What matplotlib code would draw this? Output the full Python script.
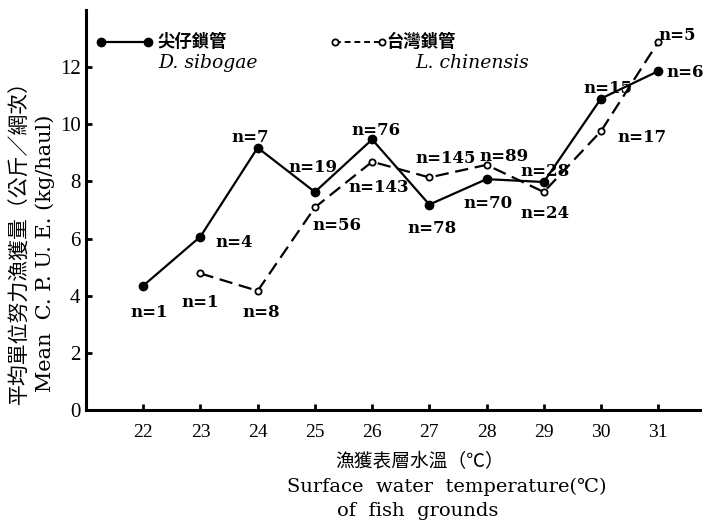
import matplotlib
matplotlib.use('Agg')
import matplotlib.pyplot as plt
from matplotlib.lines import Line2D

# surface water temperature (C)
temp_sib = [22, 23, 24, 25, 26, 27, 28, 29, 30, 31]
cpue_sib = [4.35, 6.07, 9.18, 7.63, 9.47, 7.19, 8.08, 7.98, 10.9, 11.86]
n_sib = ['n=1', 'n=4', 'n=7', 'n=19', 'n=76', 'n=78', 'n=70', 'n=28', 'n=15', 'n=6']

temp_chi = [23, 24, 25, 26, 27, 28, 29, 30, 31]
cpue_chi = [4.78, 4.17, 7.09, 8.69, 8.14, 8.58, 7.63, 9.76, 12.88]
n_chi = ['n=1', 'n=8', 'n=56', 'n=143', 'n=145', 'n=89', 'n=24', 'n=17', 'n=5']

xticks = [22, 23, 24, 25, 26, 27, 28, 29, 30, 31]
yticks = [0, 2, 4, 6, 8, 10, 12]

# label offsets in pixels (dx right, dy down)
off_sib = [(6, 27), (34, 6), (-7, -10), (-2, -24), (4, -9), (3, 24), (1, 24), (1, -10), (7, -10), (27, 1)]
off_chi = [(0, 29), (4, 22), (22, 18), (7, 26), (16, -19), (17, -8), (1, 21), (41, 6), (19, -7)]

W, H = 706, 526
fig = plt.figure(figsize=(W / 100, H / 100), dpi=100)
ax = fig.add_axes([86 / W, 116 / H, 614 / W, 400 / H])

ax.plot(temp_sib, cpue_sib, color='black', lw=1.6, marker='o', ms=6, mfc='black', mec='black')
ax.plot(temp_chi, cpue_chi, color='black', lw=1.6, ls=(0, (6, 3)), marker='o', ms=4.5,
        mfc='white', mec='black', mew=1.3)

lab_font = dict(family='DejaVu Serif', fontsize=12, weight='bold', ha='center', va='center')
for x, y, t, (dx, dy) in zip(temp_sib, cpue_sib, n_sib, off_sib):
    ax.annotate(t, (x, y), xytext=(dx, -dy), textcoords='offset pixels', **lab_font)
for x, y, t, (dx, dy) in zip(temp_chi, cpue_chi, n_chi, off_chi):
    ax.annotate(t, (x, y), xytext=(dx, -dy), textcoords='offset pixels', **lab_font)

ax.set_xlim(21, 31.73)
ax.set_ylim(0, 14)
ax.set_xticks(xticks)
ax.set_yticks(yticks)
for s in ['top', 'right']:
    ax.spines[s].set_visible(False)
for s in ['left', 'bottom']:
    ax.spines[s].set_linewidth(2.2)
ax.tick_params(direction='in', length=4, width=2)
ax.tick_params(axis='x', pad=10)
ax.tick_params(axis='y', pad=4)
for lab in ax.get_xticklabels():
    lab.set_fontfamily('Liberation Serif')
    lab.set_fontsize(14)
for lab in ax.get_yticklabels():
    lab.set_fontfamily('Liberation Serif')
    lab.set_fontsize(15)

def px(x, y):
    return x / W, 1 - y / H

# legend drawn by hand
xa, ya = px(101, 42)
xb, _ = px(148, 42)
fig.add_artist(Line2D([xa, xb], [ya, ya], transform=fig.transFigure, color='black', lw=1.6,
                      marker='o', ms=6, mfc='black'))
xa, _ = px(335, 42)
xb, _ = px(382, 42)
fig.add_artist(Line2D([xa, xb], [ya, ya], transform=fig.transFigure, color='black', lw=1.4,
                      ls=(0, (3, 2)), marker='o', ms=4.5, mfc='white', mew=1.3))
cjk = ['Noto Sans CJK TC', 'DejaVu Sans']
fig.text(*px(157, 42), '尖仔鎖管', family=cjk, fontsize=12.5, weight='bold', va='center')
fig.text(*px(158, 63), 'D. sibogae', family='DejaVu Serif', style='italic', fontsize=13.5, va='center')
fig.text(*px(386, 42), '台灣鎖管', family=cjk, fontsize=12.5, weight='bold', va='center')
fig.text(*px(415, 63), 'L. chinensis', family='DejaVu Serif', style='italic', fontsize=13.5, va='center')

# axis titles
fig.text(*px(20, 237), '平均單位努力漁獲量（公斤／網次）', family=cjk, fontsize=15,
         rotation=90, ha='center', va='center')
fig.text(*px(45, 253), 'Mean  C. P. U. E. (kg/haul)', family='DejaVu Serif', fontsize=15,
         rotation=90, ha='center', va='center')
fig.text(*px(335, 462), '漁獲表層水溫（℃）', family=cjk, fontsize=13.5, va='center')
fig.text(*px(287, 487), 'Surface  water  temperature(℃)', family='DejaVu Serif', fontsize=14, va='center')
fig.text(*px(337, 511), 'of  fish  grounds', family='DejaVu Serif', fontsize=14, va='center')

fig.savefig('out.png', dpi=100)
